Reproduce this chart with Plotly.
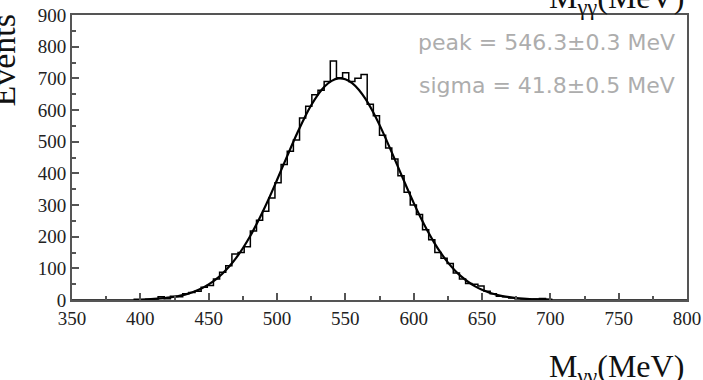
import numpy as np
import plotly.graph_objects as go

# histogram binning (100 bins, 350-800 MeV)
BIN_LO, BIN_HI, N_BINS = 350.0, 800.0, 100
counts = [0] * 11 + [
    1, 2, 3, 10, 4, 12, 10, 20, 24, 28,
    40, 46, 66, 88, 108, 145, 150, 168, 218, 252,
    280, 322, 370, 428, 470, 505, 575, 612, 648, 662,
    690, 755, 702, 718, 690, 700, 712, 618, 582, 520,
    480, 445, 392, 340, 300, 270, 222, 190, 150, 132,
    115, 85, 66, 52, 50, 44, 28, 20, 12, 10,
    6, 4, 3, 2, 3, 5, 2,
] + [0] * 22

# fitted gaussian curve
fit_x = [395, 400, 405, 410, 415, 420, 425, 430, 435, 440, 445, 450, 455, 460,
         465, 470, 475, 480, 485, 490, 495, 500, 505, 510, 515, 520, 525, 530,
         535, 540, 545, 550, 555, 560, 565, 570, 575, 580, 585, 590, 595, 600,
         605, 610, 615, 620, 625, 630, 635, 640, 645, 650, 655, 660, 665, 670,
         675, 680, 685, 690, 695, 700]
fit_y = [1.0, 1.5, 2.3, 3.4, 5.0, 7.3, 10.4, 14.6, 20.2, 27.6, 37.1, 49.3, 64.4,
         83.1, 105.6, 132.3, 163.5, 199.0, 238.9, 282.6, 329.6, 379.1, 429.7,
         480.1, 528.9, 574.3, 614.8, 648.8, 674.9, 692.1, 699.7, 697.3, 685.0,
         663.4, 633.4, 596.0, 553.0, 505.8, 456.0, 405.3, 355.1, 306.7, 261.2,
         219.2, 181.4, 147.9, 118.9, 94.3, 73.7, 56.8, 43.1, 32.3, 23.8, 17.3,
         12.4, 8.8, 6.1, 4.2, 2.8, 1.9, 1.3, 0.8]

x_ticks = [350, 400, 450, 500, 550, 600, 650, 700, 750, 800]
y_ticks = [0, 100, 200, 300, 400, 500, 600, 700, 800, 900]
stat_lines = ["peak = 546.3\u00b10.3 MeV", "sigma = 41.8\u00b10.5 MeV"]

edges = np.linspace(BIN_LO, BIN_HI, N_BINS + 1)
hist_y = list(counts) + [counts[-1]]

fig = go.Figure()
fig.add_trace(go.Scatter(x=edges, y=hist_y, mode="lines", line_shape="hv",
                         line=dict(color="black", width=1.5), hoverinfo="skip"))
fig.add_trace(go.Scatter(x=fit_x, y=fit_y, mode="lines", line_shape="spline",
                         line=dict(color="black", width=2.2), hoverinfo="skip"))

serif = "Liberation Serif"
axis_common = dict(showgrid=False, zeroline=False, showline=True, mirror=True,
                   automargin=False,
                   linecolor="#555", linewidth=2, ticks="inside", ticklen=7,
                   tickwidth=1.5, tickcolor="#555",
                   tickfont=dict(family=serif, size=19, color="#222"))

fig.update_layout(
    width=703, height=380,
    margin=dict(l=72, r=16, t=15, b=80, autoexpand=False),
    font=dict(family=serif),
    paper_bgcolor="white", plot_bgcolor="white",
    showlegend=False,
    xaxis=dict(range=[BIN_LO, BIN_HI], tickvals=x_ticks,
               minor=dict(dtick=25, ticks="inside", ticklen=4, tickcolor="#555"),
               **axis_common),
    yaxis=dict(range=[0, 900], tickvals=y_ticks,
               minor=dict(dtick=50, ticks="inside", ticklen=4, tickcolor="#555"),
               **axis_common),
)

# stats text
for i, t in enumerate(stat_lines):
    fig.add_annotation(xref="paper", yref="paper", x=0.984, y=0.905 - i * 0.152,
                       xanchor="right", yanchor="middle", showarrow=False, text=t,
                       font=dict(family="DejaVu Sans ExtraLight, DejaVu Sans",
                                 size=22, color="#adadad"))

# axis titles
fig.add_annotation(xref="paper", yref="paper", x=0.998, y=-0.24, xanchor="right",
                   yanchor="middle", showarrow=False,
                   text="M<sub>\u03b3\u03b3</sub>(MeV)",
                   font=dict(family=serif, size=32, color="#111"))
fig.add_annotation(xref="paper", yref="paper", x=0.998, y=1.055, xanchor="right",
                   yanchor="middle", showarrow=False,
                   text="M<sub>\u03b3\u03b3</sub>(MeV)",
                   font=dict(family=serif, size=32, color="#111"))
fig.add_annotation(xref="paper", yref="paper", x=0, y=1.0, xanchor="center",
                   yanchor="top", xshift=-69, yshift=3, showarrow=False,
                   textangle=-90, text="Events",
                   font=dict(family=serif, size=34, color="#111"))

fig.write_html("out.html", config={"displayModeBar": False},
               post_script="document.body.style.margin='0';")
